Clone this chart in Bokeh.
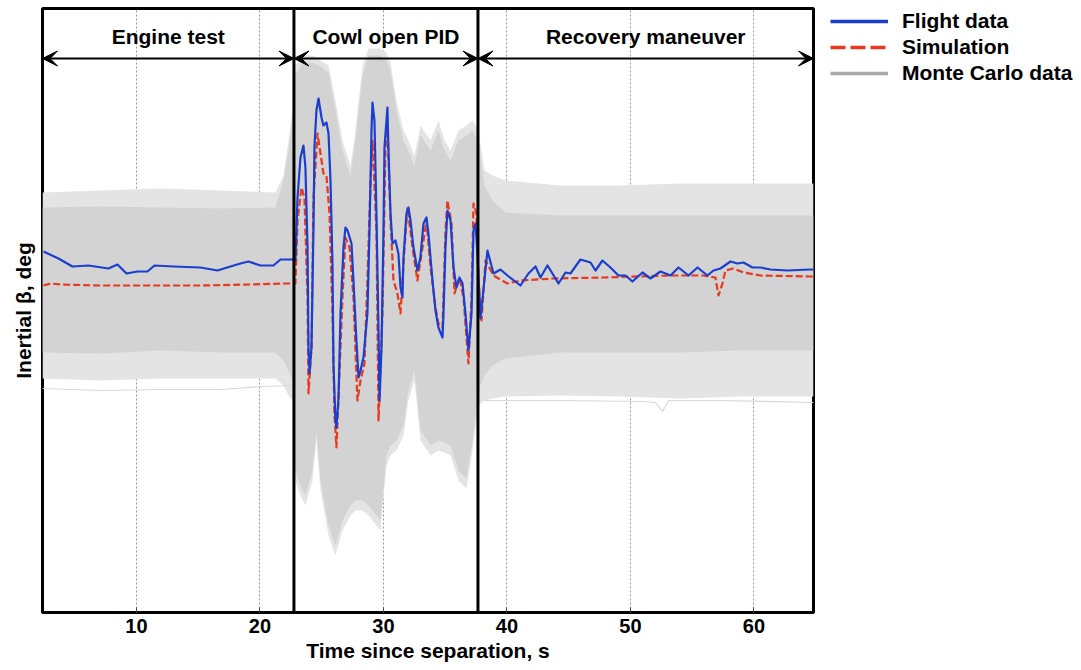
from bokeh.plotting import figure
from bokeh.layouts import row
from bokeh.models import (Range1d, Span, Arrow, VeeHead, Label, Legend, LegendItem, FixedTicker)
from bokeh.embed import file_html
from bokeh.resources import INLINE

# ---------------- data ----------------
phase_names = ["Engine test", "Cowl open PID", "Recovery maneuver"]
phase_edges = [2.39, 22.75, 37.65, 64.82]
x_ticks = [10, 20, 30, 40, 50, 60]

flight_t = [2.47, 3.68, 4.82, 6.11, 7.73, 8.46, 9.19, 10.08, 10.89, 11.46, 13.0, 15.18, 16.56, 17.61,
            18.42, 19.07, 20.04, 21.09, 21.66, 22.79,
            22.87, 23.04, 23.28, 23.52, 23.68, 23.85, 23.93, 24.01, 24.17, 24.33, 24.41, 24.57, 24.74,
            24.98, 25.14, 25.38, 25.55, 25.71, 25.87, 25.95, 26.11, 26.19, 26.36, 26.52, 26.76, 26.92,
            27.09, 27.41, 27.57, 27.81, 27.98, 28.14, 28.38, 28.7, 28.87, 29.03, 29.11, 29.27, 29.43,
            29.6, 29.68, 29.84, 30.0, 30.08, 30.32, 30.4, 30.57, 30.73, 30.97, 31.21, 31.38, 31.54,
            31.62, 31.86, 32.02, 32.19, 32.43, 32.75, 32.99, 33.24, 33.48, 33.64, 33.97, 34.21, 34.45,
            34.78, 34.86, 35.02, 35.18, 35.43, 35.67, 35.91, 36.15, 36.4, 36.64, 36.88, 37.13, 37.29,
            37.45, 37.61, 37.77, 37.85,
            38.42, 38.91, 39.47, 40.04, 41.09, 41.74, 42.31, 42.71, 43.28, 43.68, 44.17, 44.74, 45.14,
            45.95, 46.76, 47.17, 47.73, 48.38, 49.03, 49.6, 50.16, 50.97, 51.62, 52.43, 53.24, 53.89,
            54.7, 55.43, 56.23, 56.72, 57.29, 58.1, 58.66, 59.15, 59.88, 60.53, 61.34, 62.71, 64.57, 64.82]
flight_beta = [1.45, 1.1, 0.7, 0.75, 0.6, 0.8, 0.35, 0.45, 0.45, 0.75, 0.7, 0.65, 0.5, 0.7,
               0.85, 0.95, 0.75, 0.75, 1.05, 1.05,
               1.0, 4.15, 6.15, 6.75, 5.65, 1.65, -3.35, -4.65, -3.35, 2.5, 6.65, 8.5, 9.1,
               8.15, 7.75, 7.9, 7.35, 5.0, 0.85, -4.15, -7.0, -7.35, -5.85, -1.65, 1.65, 2.65,
               2.5, 1.85, 0.0, -3.0, -4.85, -4.5, -3.85, -1.65, 2.5, 7.5, 8.9, 8.0, 3.35,
               -2.5, -6.0, -3.35, 2.5, 6.65, 8.65, 6.65, 3.35, 1.85, 2.0, 1.35, -0.35, -0.85,
               1.15, 3.35, 3.65, 3.0, 1.65, 0.5, 1.15, 2.85, 3.15, 2.35, 0.0, -1.5, -2.35,
               -2.85, -1.65, 1.65, 3.5, 3.0, 0.65, -0.35, 0.15, -0.15, -1.65, -3.5, -1.65, 2.5,
               2.85, 1.35, -0.85, -1.9,
               1.5, 0.35, 0.55, 0.25, -0.25, 0.35, 0.7, 0.15, 0.75, 0.35, -0.15, 0.4, 0.35,
               1.05, 0.9, 0.5, 1.0, 0.65, 0.25, 0.25, -0.05, 0.4, 0.1, 0.45, 0.25, 0.65,
               0.25, 0.65, 0.25, 0.5, 0.6, 0.95, 0.85, 0.9, 0.65, 0.65, 0.55, 0.5, 0.55, 0.55]

sim_t = [2.47, 3.04, 3.85, 7.09, 11.13, 15.18, 19.23, 22.06, 22.79,
         22.87, 23.04, 23.36, 23.6, 23.85, 23.93, 24.17, 24.33, 24.66, 24.9, 25.14, 25.38, 25.63,
         25.87, 26.03, 26.19, 26.36, 26.68, 26.92, 27.25, 27.57, 27.89, 28.14, 28.46, 28.7, 28.95,
         29.11, 29.43, 29.6, 29.92, 30.16, 30.32, 30.57, 30.81, 31.13, 31.38, 31.62, 31.94, 32.35,
         32.75, 33.16, 33.48, 33.81, 34.21, 34.45, 34.78, 35.02, 35.18, 35.51, 35.75, 36.15, 36.48,
         36.88, 37.13, 37.29, 37.53, 37.69, 37.94,
         38.26, 38.91, 40.04, 41.09, 43.76, 47.81, 53.24, 55.91, 56.88, 57.13, 57.45, 57.69,
         58.34, 59.15, 60.53, 64.57, 64.82]
sim_beta = [-0.25, -0.15, -0.2, -0.25, -0.25, -0.25, -0.2, -0.15, -0.15,
            -0.15, 3.0, 4.65, 4.15, -0.85, -5.65, -3.35, 4.15, 7.35, 6.35, 5.35, 5.25, 3.35,
            -1.65, -6.65, -8.35, -5.85, -0.85, 2.15, 1.65, -0.85, -6.0, -5.0, -4.15, 0.0, 5.0,
            7.0, 2.5, -7.0, -1.65, 6.65, 7.75, 3.0, 0.0, -0.65, -1.65, 0.85, 3.65, 1.65,
            0.0, 1.65, 3.0, 0.65, -1.35, -2.15, -2.35, 2.5, 4.0, 2.85, -0.65, 0.15, -0.85,
            -4.15, -0.85, 3.85, 3.35, 0.0, -2.0,
            1.0, 0.25, -0.15, 0.0, 0.1, 0.15, 0.25, 0.25, 0.15, -0.75, -0.15, 0.5,
            0.6, 0.4, 0.25, 0.2, 0.2]

# Monte Carlo envelope (dense core and lighter fringe)
mc_t = [2.39, 7.09, 11.94, 16.8, 21.26, 21.9, 22.31, 22.63, 22.87, 23.28, 23.68, 24.25, 24.57,
        24.9, 25.55, 26.11, 26.68, 27.33, 27.73, 28.3, 28.79, 29.76, 30.24, 30.57, 31.05, 31.62,
        32.02, 32.51, 33.0, 33.81, 34.45, 34.94, 35.43, 36.07, 36.72, 37.21, 37.69, 38.18, 38.83,
        39.88, 44.33, 49.19, 54.05, 58.91, 64.82]
mc_core_hi = [3.65, 3.7, 3.65, 3.6, 3.65, 5.0, 6.5, 8.0, 10.25, 10.75, 10.9, 10.9, 10.8, 10.7,
              10.4, 8.5, 6.5, 5.25, 7.0, 10.25, 11.25, 11.25, 11.0, 10.5, 8.5, 7.0, 6.5, 5.75,
              7.25, 6.5, 7.5, 6.5, 6.0, 7.0, 7.25, 7.5, 7.0, 4.75, 4.0, 3.4, 3.25, 3.25, 3.25,
              3.25, 3.25]
mc_core_lo = [-3.6, -3.65, -3.5, -3.6, -3.6, -4.0, -4.5, -5.0, -9.5, -10.25, -10.75, -9.5, -7.5,
              -10.0, -12.25, -13.25, -12.0, -11.25, -11.0, -11.0, -11.25, -12.0, -8.75, -8.25,
              -8.0, -7.25, -5.5, -4.5, -7.5, -8.25, -8.0, -8.1, -8.25, -9.5, -9.9, -8.0, -5.5,
              -4.75, -4.25, -3.9, -3.6, -3.6, -3.6, -3.5, -3.5]
mc_fringe_hi = [4.4, 4.5, 4.6, 4.5, 4.4, 5.25, 7.0, 8.5, 10.75, 11.1, 11.25, 11.25, 11.15, 11.0,
                10.75, 9.0, 7.0, 5.75, 7.5, 10.75, 11.6, 11.6, 11.4, 10.9, 9.0, 7.5, 7.0, 6.25,
                7.75, 7.0, 8.0, 7.0, 6.5, 7.5, 7.75, 8.0, 7.5, 5.5, 5.25, 5.0, 4.75, 4.75, 4.85,
                4.85, 4.85]
mc_fringe_lo = [-4.9, -5.0, -4.9, -4.9, -4.9, -5.25, -5.75, -6.0, -10.0, -10.75, -11.25, -10.0,
                -8.0, -10.5, -12.75, -13.75, -12.5, -11.75, -11.5, -11.5, -11.75, -12.5, -9.25,
                -8.75, -8.5, -7.75, -6.0, -5.0, -8.0, -8.75, -8.5, -8.6, -8.75, -10.0, -10.4,
                -8.5, -6.25, -6.0, -5.9, -5.8, -5.75, -5.8, -5.9, -5.8, -5.8]
mc_out1_t = [2.39, 7.09, 11.94, 16.8, 20.04, 22.79]
mc_out1_beta = [-5.4, -5.5, -5.45, -5.45, -5.3, -5.25]
mc_out2_t = [38.18, 44.33, 50.81, 52.02, 52.59, 53.08, 57.29, 64.82]
mc_out2_beta = [-6.0, -6.0, -6.05, -6.1, -6.55, -6.0, -6.0, -6.1]

legend_labels = ["Flight data", "Simulation", "Monte Carlo data"]

# ---------------- styles ----------------
FONT = "Liberation Sans"
BLUE = "#1a3fd0"
RED = "#e8381e"
MC_GREY = "#a8a8a8"
Y_LO, Y_HI = -16.6, 13.6
ARROW_Y = 11.1
HEADER_Y = 12.2

p = figure(width=815, height=670, output_backend="svg", toolbar_location=None,
           x_range=Range1d(phase_edges[0], phase_edges[-1]), y_range=Range1d(Y_LO, Y_HI),
           min_border_left=42, min_border_right=2, min_border_top=8, min_border_bottom=58)
p.background_fill_color = "white"
p.border_fill_color = "white"
p.outline_line_color = "black"
p.outline_line_width = 3

# Monte Carlo
p.varea(x=mc_t, y1=mc_fringe_lo, y2=mc_fringe_hi, fill_color="#e4e4e4")
p.varea(x=mc_t, y1=mc_core_lo, y2=mc_core_hi, fill_color="#d3d3d3")
p.line(mc_out1_t, mc_out1_beta, line_color="#d8d8d8", line_width=1.2)
p.line(mc_out2_t, mc_out2_beta, line_color="#d8d8d8", line_width=1.2)

p.line(sim_t, sim_beta, line_color=RED, line_width=2.2, line_dash="7 3", line_join="round")
p.line(flight_t, flight_beta, line_color=BLUE, line_width=2.2, line_join="round")

# phase dividers, arrows and titles
for e in phase_edges[1:-1]:
    p.add_layout(Span(location=e, dimension="height", line_color="black", line_width=3))
for i, name in enumerate(phase_names):
    a, b = phase_edges[i], phase_edges[i + 1]
    p.add_layout(Arrow(start=VeeHead(size=15, fill_color="black", line_color="black"),
                       end=VeeHead(size=15, fill_color="black", line_color="black"),
                       x_start=a, x_end=b, y_start=ARROW_Y, y_end=ARROW_Y,
                       line_color="black", line_width=2))
    p.add_layout(Label(x=(a + b) / 2, y=HEADER_Y, text=name, text_align="center",
                       text_baseline="middle", text_font=FONT, text_font_style="bold",
                       text_font_size="21px", text_color="black"))

# axes
p.xaxis.ticker = FixedTicker(ticks=x_ticks)
p.xaxis.axis_label = "Time since separation, s"
p.xaxis.axis_line_color = None
p.xaxis.major_tick_in = 5
p.xaxis.major_tick_out = 0
p.xaxis.minor_tick_line_color = None
p.xaxis.major_tick_line_color = "#444444"
p.xaxis.major_label_text_font = FONT
p.xaxis.major_label_text_font_style = "bold"
p.xaxis.major_label_text_font_size = "20px"
p.xaxis.major_label_text_color = "black"
p.xaxis.major_label_standoff = 6
p.xaxis.axis_label_text_font = FONT
p.xaxis.axis_label_text_font_style = "bold"
p.xaxis.axis_label_text_font_size = "21px"
p.xaxis.axis_label_text_color = "black"
p.xaxis.axis_label_standoff = 3

p.yaxis.ticker = FixedTicker(ticks=[])
p.yaxis.axis_label = "Inertial β, deg"
p.yaxis.axis_line_color = None
p.yaxis.major_tick_line_color = None
p.yaxis.minor_tick_line_color = None
p.yaxis.major_label_standoff = 0
p.yaxis.axis_label_text_font = FONT
p.yaxis.axis_label_text_font_style = "bold"
p.yaxis.axis_label_text_font_size = "21px"
p.yaxis.axis_label_text_color = "black"
p.yaxis.axis_label_standoff = 8

p.xgrid.grid_line_color = "#999999"
p.xgrid.grid_line_dash = "2 2"
p.xgrid.grid_line_width = 1
p.ygrid.visible = False

# legend panel (separate figure to the right, proxies carry only styles)
pl = figure(width=266, height=670, output_backend="svg", toolbar_location=None,
            x_range=Range1d(0, 1), y_range=Range1d(0, 1),
            x_axis_location=None, y_axis_location=None,
            min_border_left=0, min_border_right=0, min_border_top=0, min_border_bottom=0)
pl.outline_line_color = None
pl.grid.visible = False
pl.background_fill_color = "white"
pl.border_fill_color = "white"
nan = float("nan")
r1 = pl.line(x=[nan], y=[nan], line_color=BLUE, line_width=3.5)
r2 = pl.line(x=[nan], y=[nan], line_color=RED, line_width=3.5, line_dash="15 5")
r3 = pl.line(x=[nan], y=[nan], line_color=MC_GREY, line_width=3.5)
legend = Legend(items=[LegendItem(label=legend_labels[0], renderers=[r1]),
                       LegendItem(label=legend_labels[1], renderers=[r2]),
                       LegendItem(label=legend_labels[2], renderers=[r3])],
                location=(15, 527), padding=0, margin=0, spacing=2,
                glyph_width=58, glyph_height=20, label_height=20, label_standoff=14,
                label_text_font=FONT, label_text_font_style="bold", label_text_font_size="21px",
                label_text_color="black", border_line_color=None, background_fill_alpha=0)
pl.add_layout(legend, "center")

layout = row(p, pl)
open("out.html", "w").write(file_html(layout, INLINE))
